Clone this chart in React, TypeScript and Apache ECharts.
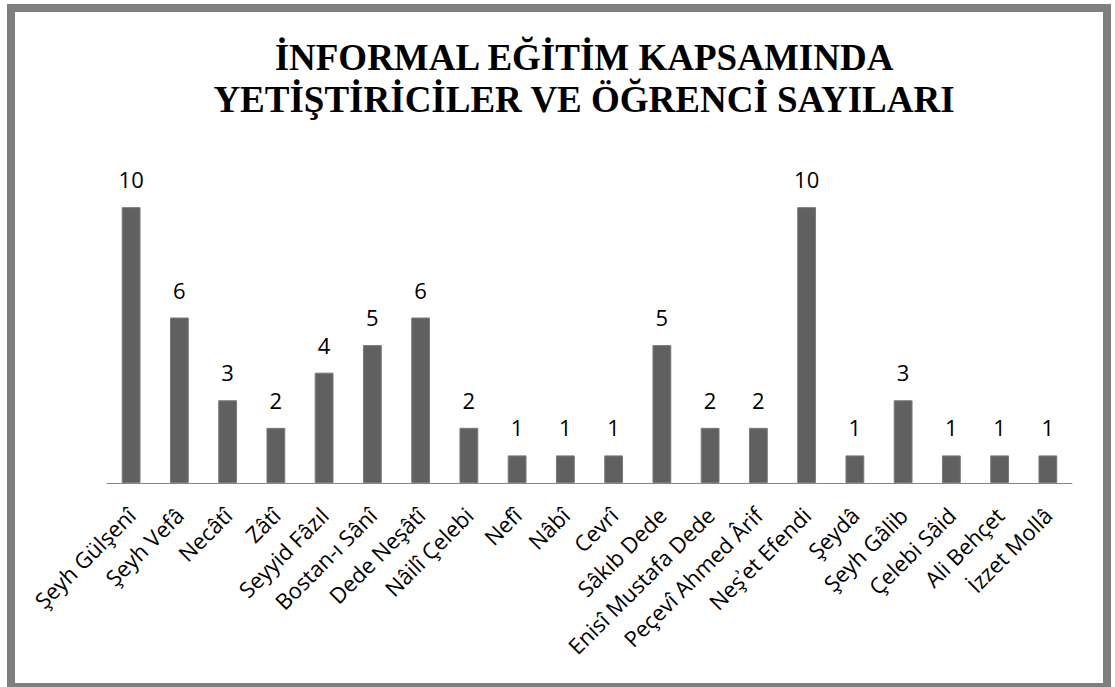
import React, { useEffect, useRef } from "react";
import * as echarts from "echarts";

const categories: string[] = [
  "Şeyh Gülşenî",
  "Şeyh Vefâ",
  "Necâtî",
  "Zâtî",
  "Seyyid Fâzıl",
  "Bostan-ı Sânî",
  "Dede Neşâtî",
  "Nâilî Çelebi",
  "Nefî",
  "Nâbî",
  "Cevrî",
  "Sâkıb Dede",
  "Enisî Mustafa Dede",
  "Peçevî Ahmed Ârif",
  "Neş\u02BEet Efendi",
  "Şeydâ",
  "Şeyh Gâlib",
  "Çelebi Sâid",
  "Ali Behçet",
  "İzzet Mollâ",
];

const values: number[] = [10, 6, 3, 2, 4, 5, 6, 2, 1, 1, 1, 5, 2, 2, 10, 1, 3, 1, 1, 1];

const titleLines: string[] = [
  "İNFORMAL EĞİTİM KAPSAMINDA",
  "YETİŞTİRİCİLER VE ÖĞRENCİ SAYILARI",
];

export default function App() {
  const ref = useRef<HTMLDivElement>(null);

  useEffect(() => {
    if (!ref.current) return;
    const chart = echarts.init(ref.current, null, { renderer: "svg" });
    const labelFont = "'Open Sans', 'Noto Sans', sans-serif";
    chart.setOption({
      animation: false,
      backgroundColor: "#ffffff",
      graphic: [
        {
          type: "rect",
          shape: { x: 11, y: 8, width: 1096, height: 679 },
          style: { fill: "none", stroke: "#7f7f7f", lineWidth: 8 },
          silent: true,
        },
        ...titleLines.map((t, i) => ({
          type: "text",
          x: 584,
          y: 57.5 + i * 42,
          style: {
            text: t,
            fill: "#000000",
            font: "bold 37px 'Liberation Serif', 'Times New Roman', serif",
            textAlign: "center",
            textVerticalAlign: "middle",
          },
          silent: true,
        })),
      ],
      grid: { left: 107, right: 43, top: 152, bottom: 204, containLabel: false },
      xAxis: {
        type: "category",
        data: categories,
        axisLine: { show: true, lineStyle: { color: "#868686", width: 1 } },
        axisTick: { show: false },
        axisLabel: {
          interval: 0,
          rotate: 45,
          margin: 28,
          color: "#000000",
          fontFamily: labelFont,
          fontSize: 22,
        },
      },
      yAxis: {
        type: "value",
        min: 0,
        max: 12,
        show: false,
        splitLine: { show: false },
      },
      series: [
        {
          type: "bar",
          data: values,
          barWidth: "39%",
          itemStyle: { color: "#606060", borderColor: "#7a7a7a", borderWidth: 1 },
          label: {
            show: true,
            position: "top",
            distance: 17,
            color: "#000000",
            fontFamily: labelFont,
            fontSize: 22,
          },
        },
      ],
    });
    return () => chart.dispose();
  }, []);

  return (
    <div
      ref={ref}
      style={{ position: "fixed", left: 0, top: 0, width: 1115, height: 687 }}
    />
  );
}
